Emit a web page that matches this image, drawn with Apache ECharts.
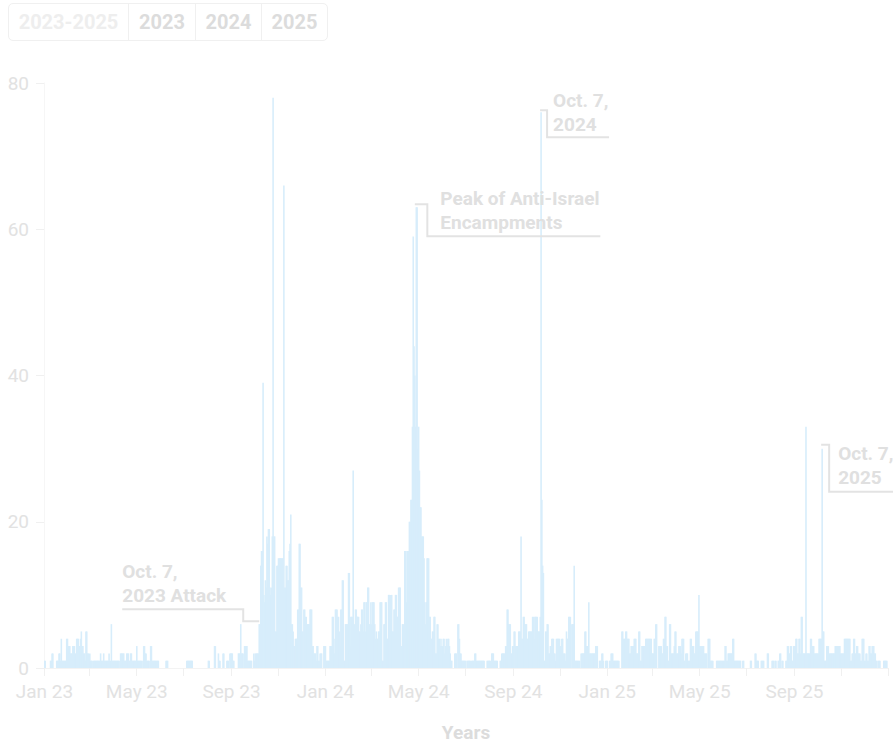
<!DOCTYPE html>
<html>
<head>
<meta charset="utf-8">
<script src="https://cdn.jsdelivr.net/npm/echarts@6.0.0/dist/echarts.min.js"></script>
<style>
  html, body { margin: 0; padding: 0; background: #ffffff; }
  #wrap { position: relative; width: 893px; height: 747px; overflow: hidden; }
  #chart { position: absolute; left: 0; top: 0; width: 893px; height: 747px; }
  #btns { position: absolute; left: 8px; top: 3px; height: 38px; display: flex; box-sizing: border-box;
          border: 1px solid #f0f0f0; border-radius: 5px; z-index: 2; background: #fff; }
  #btns div { font-family: Roboto, sans-serif; font-weight: bold; font-size: 20px; color: #dcdcdc; box-sizing: border-box;
              display: flex; align-items: center; justify-content: center; border-left: 1px solid #f0f0f0; }
  #btns div:first-child { border-left: none; color: #eeeeee; }
</style>
</head>
<body>
<div id="wrap">
  <div id="chart"></div>
  <div id="btns"></div>
</div>
<script>
// ---------- data (daily counts, Jan 1 2023 .. Dec 31 2025) ----------
const counts2023 = [
  // Jan
  1,1,0,0,0,0,0,0,1,1,2,2,0,0,0,0,1,1,1,2,2,1,4,1,1,1,1,1,1,4,4,
  // Feb
  3,3,3,2,2,2,3,3,3,2,2,4,4,4,3,3,4,5,3,3,2,2,1,5,5,2,2,1,
  // Mar
  2,1,1,1,0,1,1,1,1,1,1,1,1,1,2,1,1,1,2,1,1,1,1,1,1,2,1,1,6,1,1,
  // Apr
  1,1,1,1,1,1,1,1,0,2,2,2,2,2,1,1,1,2,2,2,1,1,2,2,1,1,1,1,1,1,
  // May
  3,1,1,1,1,1,1,0,1,3,3,2,2,1,1,1,1,0,3,3,1,1,1,1,1,1,1,1,1,0,0,
  // Jun
  0,0,0,0,0,0,0,1,1,1,0,0,0,0,0,0,0,0,0,0,0,0,0,0,0,0,0,0,0,0,
  // Jul
  0,0,0,0,1,1,1,1,1,1,1,1,0,0,0,0,0,0,0,0,0,0,0,0,0,0,0,0,0,0,0,
  // Aug
  0,1,1,0,0,0,0,0,0,3,3,0,0,0,2,1,1,0,0,0,2,2,0,0,0,1,1,1,0,2,2,
  // Sep
  2,2,1,1,0,0,0,0,0,2,2,2,6,2,2,2,0,3,3,3,3,1,1,1,1,1,1,0,0,2,
  // Oct
  1,2,2,2,2,2,6,6,14,16,16,39,10,9,12,11,18,17,19,19,11,10,11,18,78,18,18,5,5,14,14,
  // Nov
  15,15,15,15,15,15,15,66,11,11,14,14,12,12,16,17,21,6,6,5,3,3,4,4,4,8,8,17,17,11,
  // Dec
  11,5,5,8,8,7,7,6,6,6,6,8,8,8,3,3,2,2,2,1,3,3,1,1,2,2,2,0,0,3,3
];
const counts2024 = [
  // Jan
  3,1,1,1,1,1,3,3,3,7,7,4,2,8,8,8,7,7,5,3,8,8,12,12,1,1,6,6,6,6,13,
  // Feb
  13,3,7,7,7,27,5,6,8,8,7,7,7,5,5,6,8,8,5,9,9,5,9,9,11,11,6,6,9,
  // Mar
  6,9,9,9,6,4,5,4,4,5,5,9,9,9,1,1,6,6,9,9,4,4,10,10,10,10,10,5,5,8,8,
  // Apr
  10,10,7,7,11,11,11,3,3,6,6,4,16,16,9,16,16,16,20,20,23,23,33,59,44,40,33,63,63,30,
  // May
  33,27,22,22,18,18,18,15,9,6,9,15,15,15,7,7,4,4,5,5,7,7,2,2,6,6,4,4,3,4,3,
  // Jun
  3,4,4,2,3,4,3,4,4,3,2,1,1,0,0,0,2,2,2,0,6,6,4,2,2,1,1,1,1,1,
  // Jul
  1,0,1,1,1,1,1,0,1,1,1,1,2,2,1,1,1,1,1,1,1,1,1,1,1,0,0,0,1,1,1,
  // Aug
  1,1,0,2,2,2,1,1,1,1,1,0,0,0,1,1,2,2,2,2,2,3,3,8,8,6,6,6,2,2,3,
  // Sep
  3,5,5,3,3,3,3,5,5,5,18,4,4,7,7,6,6,6,4,4,5,5,5,5,5,7,7,4,7,7,
  // Oct
  7,7,5,5,5,7,76,23,14,13,1,1,5,5,6,6,2,2,3,3,4,4,4,2,2,1,4,4,4,4,4,
  // Nov
  3,3,4,4,2,2,2,1,5,4,4,7,7,7,0,6,6,6,14,1,1,1,1,1,1,1,0,2,2,2,
  // Dec
  2,2,5,5,3,3,3,9,2,2,2,2,2,2,2,2,3,3,3,0,0,1,1,1,2,2,1,0,0,1,1
];
const counts2025 = [
  // Jan
  1,0,0,1,1,2,2,2,1,1,1,1,1,1,1,1,0,0,0,5,5,4,4,4,5,5,4,4,4,2,2,
  // Feb
  3,3,3,3,4,4,4,2,2,2,5,5,1,1,3,3,3,3,3,4,4,4,4,4,4,4,4,2,
  // Mar
  2,2,4,4,6,6,0,0,3,3,3,3,2,2,4,4,7,7,3,3,1,1,6,6,2,2,2,2,3,5,5,
  // Apr
  2,2,2,3,3,3,2,4,4,4,1,1,2,2,2,1,1,1,4,4,3,3,3,2,2,5,5,5,5,10,
  // May
  3,3,3,3,3,3,2,2,2,2,0,4,4,4,1,1,1,1,0,0,0,0,1,1,1,1,1,1,1,1,1,
  // Jun
  1,1,3,3,1,1,2,2,2,2,2,2,4,4,1,1,1,1,1,1,1,1,1,0,0,1,1,0,0,0,
  // Jul
  0,0,0,0,0,1,1,0,0,0,0,2,2,1,1,1,0,0,0,1,1,1,1,0,0,0,0,2,2,0,0,
  // Aug
  0,0,1,1,1,0,1,1,0,0,1,1,2,2,0,1,1,0,0,0,1,1,3,3,2,2,3,3,1,1,3,
  // Sep
  3,3,4,4,2,2,4,4,2,7,7,2,2,2,2,33,2,2,2,2,2,4,4,3,3,3,2,2,2,2,
  // Oct
  2,2,4,4,4,4,30,5,5,1,1,1,3,3,3,2,2,2,2,2,2,2,2,3,3,3,3,3,3,3,2,
  // Nov
  2,2,2,2,4,4,4,4,4,4,4,4,1,1,2,2,4,4,2,2,3,3,2,2,2,1,1,4,4,4,
  // Dec
  1,1,2,2,1,1,3,3,2,2,3,3,3,2,2,1,1,0,1,1,1,0,0,0,0,1,1,1,1,1,0
];

const yTickValues = [0, 20, 40, 60, 80];
const monthNames = ['Jan','Feb','Mar','Apr','May','Jun','Jul','Aug','Sep','Oct','Nov','Dec'];
const labelMonths = [0, 4, 8];          // Jan, May, Sep labels
const tickMonths = [0, 2, 4, 6, 8, 10]; // tick every two months
const rangeButtons = ['2023-2025', '2023', '2024', '2025'];
const noteDates = ['2023-10-07', '2024-04-28', '2024-10-07', '2025-10-07'];
const noteTexts = ['Oct. 7,\n2023 Attack', 'Peak of Anti-Israel\nEncampments', 'Oct. 7,\n2024', 'Oct. 7,\n2025'];

// ---------- build categories ----------
const values = counts2023.concat(counts2024, counts2025);
const dates = [];
for (let i = 0; i < values.length; i++) {
  const d = new Date(Date.UTC(2023, 0, 1 + i));
  dates.push(d.toISOString().slice(0, 10));
}
function parts(s) { return { y: +s.slice(0, 4), m: +s.slice(5, 7) - 1, d: +s.slice(8, 10) }; }

// ---------- buttons ----------
const btnWidths = [119, 67, 66, 66];
const btns = document.getElementById('btns');
rangeButtons.forEach((t, i) => {
  const el = document.createElement('div');
  el.textContent = t;
  el.style.width = btnWidths[i] + 'px';
  btns.appendChild(el);
});

// ---------- annotations layout (pixel offsets from the annotated bar top) ----------
const noteLayouts = [
  { path: [[0, -3], [-16, -3], [-16, -15], [-137, -15]], tx: -137, ty: -65 },
  { path: [[-1.5, -3], [11, -3], [11, 29], [184, 29]], tx: 24, ty: -21 },
  { path: [[-1, -2], [6, -2], [6, 25], [68, 25]], tx: 12, ty: -24 },
  { path: [[-1, -4], [7, -4], [7, 43], [72, 43]], tx: 16, ty: -7 }
];
const noteData = noteDates.map((d, k) => {
  const idx = dates.indexOf(d);
  return [idx, values[idx], k];
});

const chart = echarts.init(document.getElementById('chart'), null, { renderer: 'svg' });
const FONT = 'Roboto, sans-serif';
chart.setOption({
  animation: false,
  grid: { left: 44, right: 5, top: 83, bottom: 73, containLabel: false },
  xAxis: {
    type: 'category',
    data: dates,
    boundaryGap: true,
    axisLine: { show: true, lineStyle: { color: '#f3f3f3', width: 1 } },
    axisTick: {
      show: true, length: 8, lineStyle: { color: '#f0f0f0' },
      interval: (i, v) => { const p = parts(v); return p.d === 1 && tickMonths.indexOf(p.m) >= 0; }
    },
    axisLabel: {
      color: '#e2e2e2', fontSize: 19, fontFamily: FONT, margin: 14,
      interval: (i, v) => { const p = parts(v); return p.d === 1 && labelMonths.indexOf(p.m) >= 0; },
      formatter: (v) => { const p = parts(v); return monthNames[p.m] + ' ' + String(p.y).slice(2); }
    },
    name: 'Years', nameLocation: 'middle', nameGap: 55,
    nameTextStyle: { color: '#dcdcdc', fontSize: 19, fontWeight: 'bold', fontFamily: FONT }
  },
  yAxis: {
    type: 'value', min: yTickValues[0], max: yTickValues[yTickValues.length - 1],
    interval: yTickValues[1] - yTickValues[0],
    axisLine: { show: true, lineStyle: { color: '#f6f6f6' } },
    axisTick: { show: true, length: 8, lineStyle: { color: '#f0f0f0' } },
    splitLine: { show: false },
    axisLabel: { color: '#e2e2e2', fontSize: 19, fontFamily: FONT, margin: 15 }
  },
  series: [
    {
      type: 'bar', data: values, barWidth: 1.6, silent: true,
      itemStyle: { color: '#d7edfb' }
    },
    {
      type: 'custom', data: noteData, silent: true, clip: false, z: 5,
      encode: { x: 0, y: 1 },
      renderItem: (params, api) => {
        const k = api.value(2);
        const pt = api.coord([api.value(0), api.value(1)]);
        const L = noteLayouts[k];
        const pts = L.path.map(p => [pt[0] + p[0], pt[1] + p[1]]);
        return {
          type: 'group',
          children: [
            { type: 'polyline', shape: { points: pts },
              style: { stroke: '#e3e3e3', lineWidth: 2, fill: null } },
            { type: 'text', x: pt[0] + L.tx, y: pt[1] + L.ty,
              style: { text: noteTexts[k], fill: '#e0e0e0', font: 'bold 19px Roboto, sans-serif',
                       lineHeight: 24, verticalAlign: 'top', align: 'left' } }
          ]
        };
      }
    }
  ]
});
</script>
</body>
</html>
